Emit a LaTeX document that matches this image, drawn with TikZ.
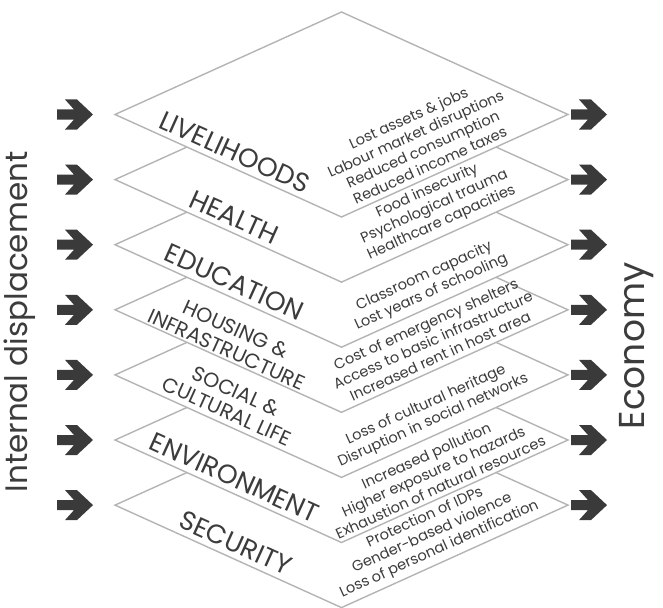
\documentclass[tikz,border=0pt]{standalone}
\usepackage{fontspec}
\setmainfont{Poppins}
\usetikzlibrary{calc}
\definecolor{linegray}{HTML}{B4B4B4}
\definecolor{arrowgray}{HTML}{3A3A3A}
\definecolor{textgray}{HTML}{3C3C3C}
\def\layer(#1:#2){%
  \coordinate (L#1) at (115,#2);
  \coordinate (T#1) at (341.5,{#2-102.5});
  \coordinate (R#1) at (568,#2);
  \coordinate (B#1) at (341.5,{#2+102.5});
  \draw[layerline] (L#1) -- (T#1) -- (R#1) -- (B#1) -- cycle;}
\def\bigarrow(#1){\fill[arrowgray, shift={(#1)}] (0,-5) -- (17,-5) -- (8,-15) -- (20,-15) -- (36,0) -- (20,15) -- (8,15) -- (17,5) -- (0,5) -- cycle;}
\tikzset{
  layerline/.style={draw=linegray, line width=1.4pt, fill=white},
  topic/.style={sloped, inner sep=0pt, text=textgray, font=\fontsize{26.5}{26.5}\selectfont},
  topictwo/.style={sloped, inner sep=0pt, text=textgray, align=center, font=\fontsize{20.5}{22}\selectfont},
  effect/.style={sloped, inner sep=0pt, text=textgray, align=center, font=\fontsize{14.6}{17.4}\selectfont},
  side/.style={rotate=90, inner sep=0pt, text=textgray, font=\fontsize{31}{31}\selectfont},
}

\begin{document}
\begin{tikzpicture}[x=1pt, y=-1pt]
		%%%%% START %%%%%
		\useasboundingbox (0,0) rectangle (663,607);
		
		\layer(7:505.1)
		\layer(6:440)
		\layer(5:374.9)
		\layer(4:309.8)
		\layer(3:244.7)
		\layer(2:179.6)
		\layer(1:114.5)
		
		\path (L1) -- (B1) node[topic, pos=.5, above=5.5pt] (livelihoods) {LIVELIHOODS};
		\path (L2) -- (B2) node[topic, pos=.5, above=5.5pt] (health) {HEALTH};
		\path (L3) -- (B3) node[topic, pos=.5, above=5.5pt] (education) {EDUCATION};
		\path (L4) -- (B4) node[topictwo, pos=.475, above=2.5pt] (housing) {HOUSING \&\\INFRASTRUCTURE};
		\path (L5) -- (B5) node[topictwo, pos=.47, above=5.5pt] (social) {SOCIAL \&\\CULTURAL LIFE};
		\path (L6) -- (B6) node[topic, pos=.5, above=5.5pt] (environment) {ENVIRONMENT};
		\path (L7) -- (B7) node[topic, pos=.505, above=5.5pt] (security) {SECURITY};
		
		\path (B1) -- (R1) node[effect, pos=.41, above=5pt] (eff1) {Lost assets \& jobs\\Labour market disruptions\\Reduced consumption\\Reduced income taxes};
		\path (B2) -- (R2) node[effect, pos=.465, above=5pt] (eff2) {Food insecurity\\Psychological trauma\\Healthcare capacities};
		\path (B3) -- (R3) node[effect, pos=.42, above=5pt] (eff3) {Classroom capacity\\Lost years of schooling};
		\path (B4) -- (R4) node[effect, pos=.455, above=5pt] (eff4) {Cost of emergency shelters\\Access to basic infrastructure\\Increased rent in host area};
		\path (B5) -- (R5) node[effect, pos=.43, above=6pt] (eff5) {Loss of cultural heritage\\Disruption in social networks};
		\path (B6) -- (R6) node[effect, pos=.455, above=4pt] (eff6) {Increased pollution\\Higher exposure to hazards\\Exhaustion of natural resources};
		\path (B7) -- (R7) node[effect, pos=.455, above=5pt] (eff7) {Protection of IDPs\\Gender-based violence\\Loss of personal identification};
		
		\bigarrow(57,114.5) \bigarrow(571,114.5)
		\bigarrow(57,179.6) \bigarrow(571,179.6)
		\bigarrow(57,244.7) \bigarrow(571,244.7)
		\bigarrow(57,309.8) \bigarrow(571,309.8)
		\bigarrow(57,374.9) \bigarrow(571,374.9)
		\bigarrow(57,440) \bigarrow(571,440)
		\bigarrow(57,505.1) \bigarrow(571,505.1)
		
		\node[side] (displacement) at (20,322) {Internal displacement};
		\node[side, font=\fontsize{36}{36}\selectfont] (economy) at (637,346) {Economy};
		
		%%%%% END %%%%%
\end{tikzpicture}
\end{document}
